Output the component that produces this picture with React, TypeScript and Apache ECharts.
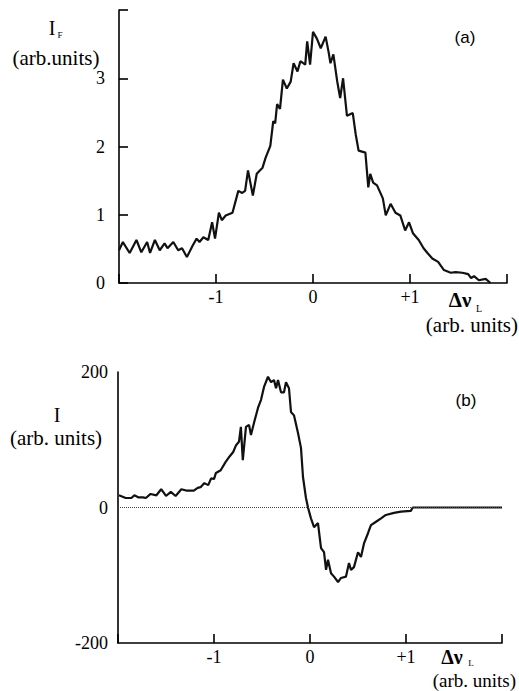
import React, { useEffect, useRef } from "react";
import * as echarts from "echarts";

// Panel (a): fluorescence intensity I_F vs detuning
const topX = [-2.0, -1.96, -1.89, -1.82, -1.77, -1.71, -1.68, -1.63, -1.58, -1.53, -1.5, -1.44, -1.39, -1.35, -1.3, -1.24, -1.2, -1.17, -1.13, -1.08, -1.04, -1.01, -0.97, -0.94, -0.9, -0.83, -0.77, -0.73, -0.7, -0.67, -0.62, -0.58, -0.52, -0.49, -0.44, -0.41, -0.39, -0.37, -0.34, -0.31, -0.27, -0.23, -0.2, -0.16, -0.13, -0.08, -0.06, -0.03, 0.0, 0.04, 0.08, 0.13, 0.16, 0.18, 0.21, 0.25, 0.28, 0.31, 0.35, 0.41, 0.44, 0.47, 0.54, 0.57, 0.59, 0.62, 0.66, 0.72, 0.75, 0.8, 0.85, 0.9, 0.95, 0.99, 1.03, 1.09, 1.14, 1.18, 1.23, 1.29, 1.35, 1.42, 1.47, 1.54, 1.6, 1.63, 1.66, 1.71, 1.78, 1.83];
const topY = [0.48, 0.6, 0.44, 0.63, 0.45, 0.6, 0.44, 0.63, 0.48, 0.58, 0.51, 0.6, 0.48, 0.51, 0.38, 0.55, 0.65, 0.6, 0.67, 0.63, 0.89, 0.65, 1.03, 0.92, 0.99, 1.03, 1.35, 1.32, 1.35, 1.65, 1.28, 1.6, 1.69, 1.83, 2.01, 2.37, 2.34, 2.62, 2.55, 2.98, 2.85, 2.95, 3.22, 3.1, 3.25, 3.2, 3.54, 3.2, 3.68, 3.58, 3.44, 3.61, 3.39, 3.22, 3.35, 2.95, 2.71, 3.0, 2.45, 2.49, 2.18, 1.94, 1.91, 1.4, 1.6, 1.47, 1.43, 1.24, 0.99, 1.16, 1.03, 0.99, 0.77, 0.89, 0.73, 0.63, 0.51, 0.44, 0.36, 0.31, 0.19, 0.15, 0.16, 0.15, 0.13, 0.07, 0.1, 0.04, 0.06, 0.0];

// Panel (b): signal I vs detuning
const botX = [-1.99, -1.92, -1.86, -1.83, -1.79, -1.74, -1.71, -1.66, -1.6, -1.55, -1.5, -1.45, -1.4, -1.34, -1.29, -1.21, -1.17, -1.14, -1.1, -1.06, -1.03, -1.0, -0.98, -0.93, -0.88, -0.84, -0.8, -0.77, -0.74, -0.72, -0.7, -0.667, -0.635, -0.615, -0.583, -0.542, -0.51, -0.479, -0.4375, -0.406, -0.375, -0.354, -0.333, -0.302, -0.271, -0.25, -0.219, -0.198, -0.167, -0.125, -0.094, -0.073, -0.042, -0.021, 0.01, 0.042, 0.083, 0.115, 0.146, 0.167, 0.1875, 0.219, 0.25, 0.292, 0.323, 0.375, 0.406, 0.427, 0.458, 0.5, 0.531, 0.5625, 0.604, 0.635, 0.6875, 0.74, 0.79, 0.875, 0.948, 1.05, 1.07, 2.0];
const botY = [18, 14, 14, 18, 15, 15, 14, 20, 18, 27, 17, 23, 17, 27, 25, 25, 29, 30, 36, 33, 43, 42, 51, 55, 67, 75, 82, 92, 97, 119, 70, 119, 122, 107, 125, 147, 159, 178, 193, 185, 188, 176, 188, 170, 170, 185, 176, 141, 136, 110, 88, 45, 14, 0, -16, -29, -23, -60, -66, -92, -77, -97, -102, -110, -104, -102, -82, -92, -88, -66, -73, -53, -38, -26, -21, -16, -11, -8, -6, -5, 0, 0];

const xTickLabels: Record<string, string> = { "-1": "-1", "0": "0", "1": "+1" };
const topYTickLabels = ["0", "1", "2", "3"];
const botYTickLabels: Record<string, string> = { "-200": "-200", "0": "0", "200": "200" };

const SERIF = "Liberation Serif";
const SANS = "Liberation Sans";

export default function App() {
  const ref = useRef<HTMLDivElement>(null);
  useEffect(() => {
    if (!ref.current) return;
    const chart = echarts.init(ref.current, undefined, { renderer: "svg" });
    const axisLine = { show: true, onZero: false, lineStyle: { color: "#000", width: 1.6 } };
    const xAxisCommon = (gridIndex: number) => ({
      type: "value" as const,
      gridIndex,
      min: -2,
      max: 2,
      interval: 1,
      axisLine,
      axisTick: { show: true, inside: true, length: 9, lineStyle: { color: "#000", width: 1.6 } },
      splitLine: { show: false },
      axisLabel: {
        color: "#000",
        fontFamily: SERIF,
        fontSize: 18,
        margin: 5,
        formatter: (v: number) => xTickLabels[String(v)] ?? "",
      },
    });
    const option: any = {
      animation: false,
      backgroundColor: "#fff",
      grid: [
        { left: 119, top: 10, width: 388, height: 273 },
        { left: 118, top: 372, width: 384, height: 271 },
      ],
      xAxis: [xAxisCommon(0), xAxisCommon(1)],
      yAxis: [
        {
          type: "value",
          gridIndex: 0,
          min: 0,
          max: 4,
          interval: 1,
          axisLine,
          axisTick: { show: true, inside: true, length: 9, lineStyle: { color: "#000", width: 1.6 } },
          splitLine: { show: false },
          axisLabel: {
            color: "#000",
            fontFamily: SERIF,
            fontSize: 18,
            margin: 14,
            formatter: (v: number) => topYTickLabels[v] ?? "",
          },
        },
        {
          type: "value",
          gridIndex: 1,
          min: -200,
          max: 200,
          interval: 200,
          axisLine,
          axisTick: { show: false },
          splitLine: { show: false },
          axisLabel: {
            color: "#000",
            fontFamily: SERIF,
            fontSize: 18,
            margin: 10,
            formatter: (v: number) => botYTickLabels[String(v)] ?? "",
          },
        },
      ],
      series: [
        {
          type: "line",
          xAxisIndex: 0,
          yAxisIndex: 0,
          data: topX.map((x, i) => [x, topY[i]]),
          showSymbol: false,
          lineStyle: { color: "#111", width: 2.2 },
        },
        {
          type: "line",
          xAxisIndex: 1,
          yAxisIndex: 1,
          data: botX.map((x, i) => [x, botY[i]]),
          showSymbol: false,
          lineStyle: { color: "#111", width: 2.2 },
          markLine: {
            silent: true,
            symbol: ["none", "none"],
            label: { show: false },
            lineStyle: { type: "dotted", color: "#444", width: 1 },
            data: [{ yAxis: 0 }],
          },
        },
      ],
      graphic: [
        { type: "text", x: 52, y: 28, style: { text: "I", font: `20px ${SERIF}`, fill: "#000", align: "center", verticalAlign: "middle" } },
        { type: "text", x: 60, y: 35, style: { text: "F", font: `9px ${SERIF}`, fill: "#000", align: "center", verticalAlign: "middle" } },
        { type: "text", x: 56, y: 58, style: { text: "(arb.units)", font: `21px ${SERIF}`, fill: "#000", align: "center", verticalAlign: "middle" } },
        { type: "text", x: 465, y: 37, style: { text: "(a)", font: `17px ${SANS}`, fill: "#000", align: "center", verticalAlign: "middle" } },
        { type: "text", x: 460, y: 300, style: { text: "Δν", font: `bold 21px ${SERIF}`, fill: "#000", align: "center", verticalAlign: "middle" } },
        { type: "text", x: 479, y: 308, style: { text: "L", font: `10px ${SERIF}`, fill: "#000", align: "center", verticalAlign: "middle" } },
        { type: "text", x: 518, y: 325, style: { text: "(arb. units)", font: `21px ${SERIF}`, fill: "#000", align: "right", verticalAlign: "middle" } },
        { type: "text", x: 57, y: 415, style: { text: "I", font: `20px ${SERIF}`, fill: "#000", align: "center", verticalAlign: "middle" } },
        { type: "text", x: 56, y: 438, style: { text: "(arb. units)", font: `21px ${SERIF}`, fill: "#000", align: "center", verticalAlign: "middle" } },
        { type: "text", x: 466, y: 400, style: { text: "(b)", font: `17px ${SANS}`, fill: "#000", align: "center", verticalAlign: "middle" } },
        { type: "text", x: 452, y: 657, style: { text: "Δν", font: `bold 20px ${SERIF}`, fill: "#000", align: "center", verticalAlign: "middle" } },
        { type: "text", x: 471, y: 663, style: { text: "L", font: `9px ${SERIF}`, fill: "#000", align: "center", verticalAlign: "middle" } },
        { type: "text", x: 516, y: 680, style: { text: "(arb. units)", font: `19px ${SERIF}`, fill: "#000", align: "right", verticalAlign: "middle" } },
      ],
    };
    chart.setOption(option);
    return () => chart.dispose();
  }, []);
  return (
    <div
      ref={ref}
      style={{ position: "absolute", left: 0, top: 0, width: 519, height: 691, background: "#fff" }}
    />
  );
}
